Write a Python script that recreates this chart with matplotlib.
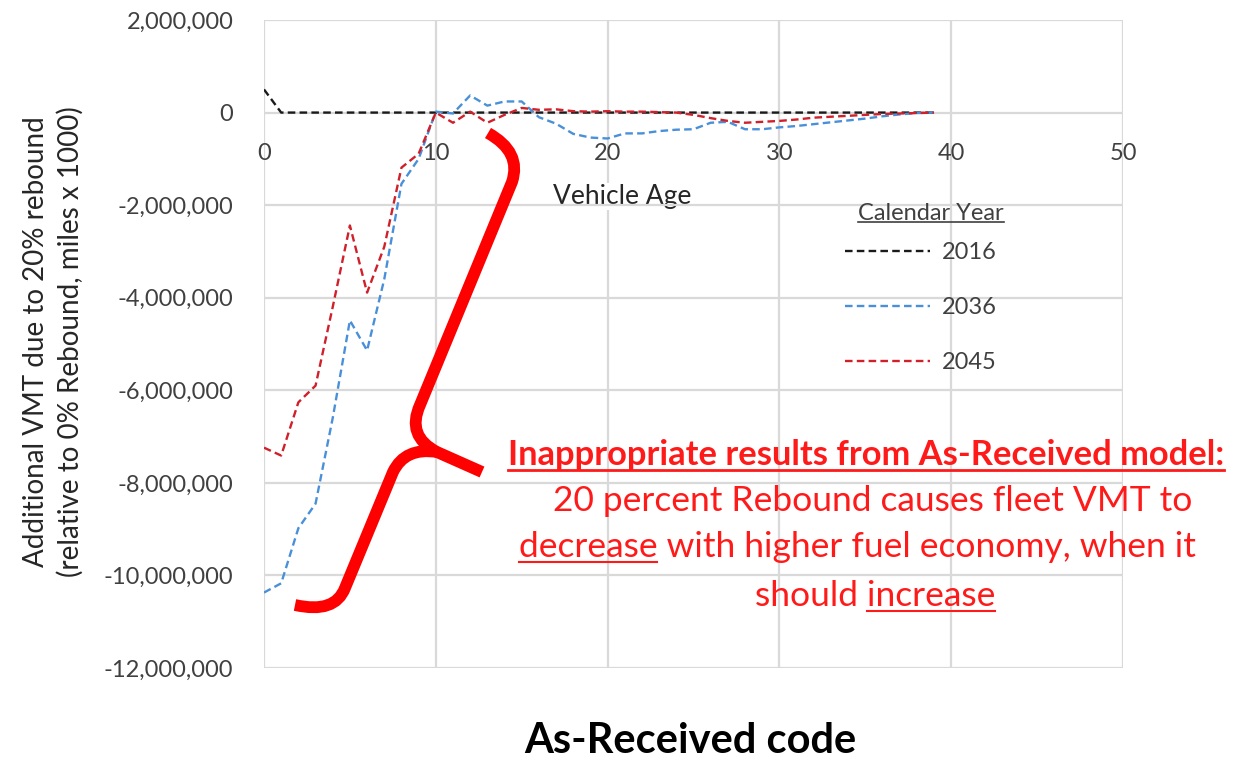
import numpy as np
import matplotlib.pyplot as plt
from matplotlib.path import Path
from matplotlib.patches import PathPatch
from matplotlib.lines import Line2D
from matplotlib.ticker import FuncFormatter

# -----------------------------
# Data (VMT in miles x 1000)
# -----------------------------
vehicle_age = list(range(0, 40))

vmt_2016 = [500000] + [0] * 39

vmt_2036 = [
    -10370000, -10170000, -8980000, -8450000, -6600000,
    -4490000, -5140000, -3600000, -1540000, -1000000,
    20000, -20000, 370000, 150000, 240000,
    240000, -100000, -240000, -460000, -540000,
    -560000, -450000, -450000, -400000, -370000,
    -360000, -220000, -200000, -360000, -360000,
    -320000, -290000, -250000, -210000, -170000,
    -130000, -80000, -40000, -10000, 0,
]

vmt_2045 = [
    -7240000, -7410000, -6260000, -5900000, -4200000,
    -2440000, -3890000, -2900000, -1190000, -890000,
    0, -220000, 20000, -220000, -50000,
    100000, 60000, 70000, 30000, 20000,
    30000, 20000, 20000, 10000, 0,
    -50000, -120000, -180000, -220000, -200000,
    -180000, -150000, -110000, -90000, -70000,
    -50000, -30000, -20000, -10000, 0,
]

series_labels = ["2016", "2036", "2045"]
series_colors = ["#1a1a1a", "#4a90d9", "#d0202a"]

# -----------------------------
# Figure setup
# -----------------------------
W, H = 1243, 762
plt.rcParams["font.family"] = ["Lato", "DejaVu Sans"]

fig = plt.figure(figsize=(W / 100, H / 100), dpi=100)


def px(x, y):
    # figure pixel (from top-left) -> figure fraction
    return x / W, 1 - y / H


left, top = 264, 20
right, bottom = 1123, 668
ax = fig.add_axes([left / W, 1 - bottom / H, (right - left) / W, (bottom - top) / H])

for vals, lab, col in zip([vmt_2016, vmt_2036, vmt_2045], series_labels, series_colors):
    ax.plot(vehicle_age, vals, color=col, lw=1.7, dashes=(3.2, 1.8), label=lab)

ax.set_xlim(0, 50)
ax.set_ylim(-12000000, 2000000)
ax.set_xticks(range(0, 51, 10))
ax.set_yticks(range(-12000000, 2000001, 2000000))
ax.yaxis.set_major_formatter(FuncFormatter(lambda v, p: f"{v:,.0f}"))
ax.grid(True, color="#d9d9d9", lw=1.6)
ax.set_axisbelow(True)
for s in ax.spines.values():
    s.set_visible(False)
ax.spines["bottom"].set_position(("data", 0))
ax.tick_params(length=0, labelsize=17, labelcolor="#404040")
ax.tick_params(axis="y", pad=22)
ax.tick_params(axis="x", pad=22)

ax.set_xlabel("Vehicle Age", fontsize=19, color="#262626",
              bbox=dict(facecolor="white", edgecolor="none", pad=1))
ax.xaxis.set_label_coords((622 - left) / (right - left), (bottom - 184) / (bottom - top))
ax.set_ylabel("Additional VMT due to 20% rebound\n(relative to 0% Rebound, miles x 1000)",
              fontsize=20, color="#262626", linespacing=1.35)
ax.yaxis.set_label_coords((84 - left) / (right - left), (bottom - 342) / (bottom - top))

leg = ax.legend(loc="upper left", frameon=False,
                bbox_to_anchor=px(845, 242), bbox_transform=fig.transFigure,
                fontsize=17, labelspacing=1.45,
                handlelength=3.6, handletextpad=0.5, borderaxespad=0, borderpad=0)
for t in leg.get_texts():
    t.set_color("#404040")
leg_title = fig.text(*px(1004, 213), "Calendar Year", ha="right", va="center",
                     fontsize=17, color="#404040")

# -----------------------------
# Brace annotation (figure pixels)
# -----------------------------
brace_upper = [(488, 133), (522, 152), (512, 182), (420, 405), (406, 436), (437, 452), (482, 472)]
brace_upper_codes = [Path.MOVETO, Path.CURVE3, Path.CURVE3, Path.LINETO, Path.CURVE3, Path.CURVE3, Path.LINETO]
brace_lower = [(437, 452), (405, 447), (393, 472), (345, 588), (335, 614), (295, 605)]
brace_lower_codes = [Path.MOVETO, Path.CURVE3, Path.CURVE3, Path.LINETO, Path.CURVE3, Path.CURVE3]
for verts, codes in [(brace_upper, brace_upper_codes), (brace_lower, brace_lower_codes)]:
    p = Path([px(x, y) for x, y in verts], codes)
    fig.add_artist(PathPatch(p, transform=fig.transFigure, fill=False, edgecolor="#ff0000",
                             lw=8.5, capstyle="butt", joinstyle="round"))

# -----------------------------
# Texts
# -----------------------------
red = "#ff1a1a"
t1 = fig.text(*px(866, 455), "Inappropriate results from As-Received model:", ha="center", va="center",
              fontsize=24.8, fontweight="bold", color=red)
t2 = fig.text(*px(873, 501), "20 percent Rebound causes fleet VMT to", ha="center", va="center",
              fontsize=25.5, color=red)
t3 = fig.text(*px(857, 547), "decrease with higher fuel economy, when it", ha="center", va="center",
              fontsize=25.5, color=red)
t4 = fig.text(*px(875, 596), "should increase", ha="center", va="center",
              fontsize=25.5, color=red)
fig.text(*px(690, 741), "As-Received code", ha="center", va="center",
         fontsize=30, fontweight="bold", color="black")

renderer = fig.canvas.get_renderer()


def text_width(s, ref):
    tmp = fig.text(0, 0, s, fontsize=ref.get_fontsize(), fontweight=ref.get_fontweight())
    w = tmp.get_window_extent(renderer).width
    tmp.remove()
    return w


def underline(t, x0, x1, color, lw=1.5, off=1):
    bb = t.get_window_extent(renderer)
    y = bb.y0 + off
    fig.add_artist(Line2D([x0 / W, x1 / W], [y / H, y / H], transform=fig.transFigure,
                          color=color, lw=lw))


bb = t1.get_window_extent(renderer)
underline(t1, bb.x0, bb.x1, red, 2)
bb = t3.get_window_extent(renderer)
underline(t3, bb.x0, bb.x0 + text_width("decrease", t3), red)
bb = t4.get_window_extent(renderer)
underline(t4, bb.x1 - text_width("increase", t4), bb.x1, red)

bb = leg_title.get_window_extent(renderer)
underline(leg_title, bb.x0, bb.x1, "#404040", 1.2, 2)

fig.savefig("out.png", dpi=100)
